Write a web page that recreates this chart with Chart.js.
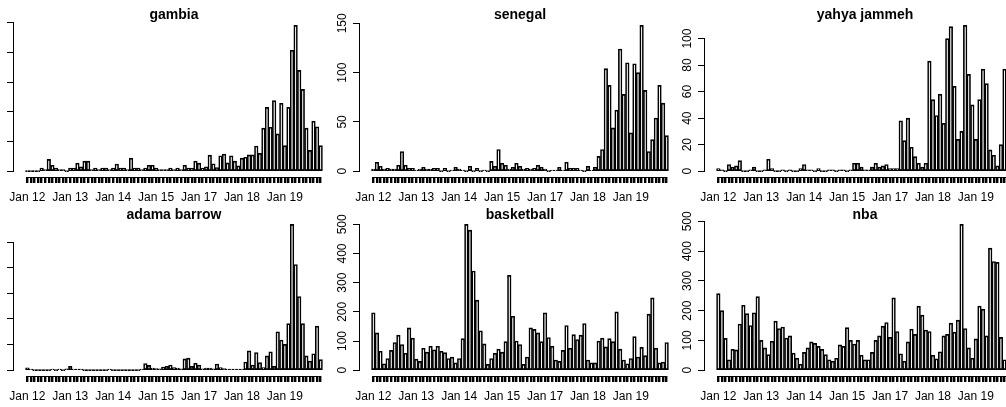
<!DOCTYPE html>
<html>
<head>
<meta charset="utf-8">
<script src="https://cdn.jsdelivr.net/npm/chart.js@4.4.1/dist/chart.umd.min.js"></script>
<style>
html, body { margin: 0; padding: 0; background: #fff; }
body { position: relative; width: 1006px; height: 407px; overflow: hidden; }
canvas { position: absolute; }
</style>
</head>
<body>
<script>
// ---------- Data ----------
// monthly series, 2016 is missing from the data, ends Nov 2019
const years = [2012, 2013, 2014, 2015, 2017, 2018, 2019];
const categories = [];
years.forEach(y => {
  const n = y === 2019 ? 11 : 12;
  for (let m = 1; m <= n; m++) categories.push(y + '-' + String(m).padStart(2, '0'));
});
const tickLabels = categories.map(c => c.endsWith('-01') ? 'Jan ' + c.slice(2, 4) : '');

const gambia = [
  0,0,0,0,1,0.5,4,2,1,0.5,
  0.5,0,1,1,2.7,1.5,3.4,3.4,0.5,1,
  0.5,1,1,0.5,1,2.4,1,1,0.5,4.4,
  1,1,0.5,1,2,2,1,0.5,0.5,0.5,
  1,0.5,1,0.5,2,1,1,3.4,2.7,1,
  1.5,5.4,2.5,1.2,5.2,5.8,2.8,5.2,3.4,1.8,
  4.4,4.7,5.5,5.5,8.5,6,14.5,21.5,14.8,23.8,
  12.6,22.9,8.6,21.5,40.8,49.2,34,27.6,14.5,7,
  16.9,15,8.6
];
const senegal = [
  2,9,5,2,3,2,2,6,20,6,
  3,3,1,2,4,2,2,3,3,0,
  3,0,1,4,2,1,0,5,0,3,
  0,1,0,10,5,22,8,6,2,4,
  8,5,2,3,2,3,6,4,2,0,
  1,1,4,1,9,3,3,3,1,0,
  5,1,4,15,22,104,87,44,62,124,
  78,110,39,109,100,148,82,20,32,54,
  87,69,36
];
const yahyaJammeh = [
  2,1,0,5,3,4,8,0,0,1,
  3,0,0,1,9,2,0,0,1,0,
  1,0,0,2,5,1,1,0,2,0,
  0,1,1,0,1,1,0,1,6,6,
  3,1,1,3,6,3,4,5,2,2,
  2,38,23,40,18,11,6,3,6,83,
  54,42,58,36,100,109,64,24,30,110,
  73,50,24,54,77,66,16,12,4,20,
  77,50,30
];
const adamaBarrow = [
  9,4,0,0,0,0,0,2,0,2,
  0,5,15,4,4,4,0,0,0,0,
  0,0,0,2,0,0,0,0,0,0,
  0,0,3,26,19,8,6,5,12,15,
  20,10,8,5,44,47,15,27,20,5,
  8,8,5,24,10,6,4,2,3,3,
  3,32,76,20,69,30,10,56,72,15,
  150,118,101,182,570,413,288,182,56,36,
  64,172,41
];
const basketball = [
  197,128,65,22,40,68,95,120,88,58,
  145,110,38,30,75,62,82,70,82,65,
  60,40,45,25,40,108,500,480,340,240,
  135,90,20,40,58,72,62,98,325,185,
  100,88,20,45,145,140,128,98,197,112,
  82,35,30,68,153,75,122,105,120,160,
  35,25,25,100,110,80,108,98,200,72,
  35,22,40,115,45,78,50,192,248,75,
  25,28,95
];
const nba = [
  257,200,107,35,70,68,155,218,190,150,
  193,247,100,75,52,97,165,140,145,108,
  115,57,40,20,60,75,95,90,80,70,
  52,35,30,40,85,80,143,100,88,100,
  50,35,35,60,100,115,148,160,110,243,
  130,55,30,95,138,120,215,185,135,130,
  50,38,62,115,120,158,128,168,490,140,
  75,40,105,215,205,115,410,365,362,110,
  35,30,40
];

const titles = ['gambia', 'senegal', 'yahya jammeh', 'adama barrow', 'basketball', 'nba'];
const series = [gambia, senegal, yahyaJammeh, adamaBarrow, basketball, nba];
const yStep = [10, 50, 20, 100, 100, 100];

// ---------- Layout ----------
const FONT = "'Liberation Sans', Arial, Helvetica, sans-serif";
const COL_X = [14, 360, 705];      // y axis position of each column
const ROW_Y = [0, 199];            // canvas top of each row
const TITLE_GAP = [4.85, 3.85];    // title centre above plot top, per row
const LEFT = 40, RIGHT = 10, TITLE_H = 19.5, BOTTOM = 30;
const PLOT_W = 320, PLOT_H = 158;

// R style axis lines: only between first and last tick
const axisLines = {
  id: 'axisLines',
  afterDraw(chart) {
    const { ctx } = chart;
    const x = chart.scales.x, y = chart.scales.y;
    const yt = y.ticks;
    ctx.save();
    ctx.strokeStyle = '#000';
    ctx.lineWidth = 1;
    ctx.beginPath();
    const ax = Math.round(y.right) - 0.5;
    ctx.moveTo(ax, y.getPixelForValue(yt[0].value));
    ctx.lineTo(ax, y.getPixelForValue(yt[yt.length - 1].value));
    const ay = Math.round(x.top) + 0.5;
    ctx.moveTo(x.getPixelForValue(0), ay);
    ctx.lineTo(x.getPixelForValue(categories.length - 1), ay);
    ctx.stroke();
    ctx.restore();
  }
};

function makePanel(k) {
  const col = k % 3, row = Math.floor(k / 3);
  const cv = document.createElement('canvas');
  cv.width = LEFT + PLOT_W + RIGHT;
  cv.height = TITLE_H + PLOT_H + BOTTOM;
  cv.style.left = (COL_X[col] - LEFT) + 'px';
  cv.style.top = ROW_Y[row] + 'px';
  document.body.appendChild(cv);

  const vals = series[k];
  const n = vals.length;
  const ymax = Math.max(...vals);
  // barplot: bars of width 1 with space 0.2, plot range widened 4%
  const ext = 0.04 * (1.2 * n - 0.2);
  const xmin = (0.2 - ext - 0.7) / 1.2;
  const xmax = (1.2 * n + ext - 0.7) / 1.2;
  const lh = 0.5 * 14;
  const padBottom = TITLE_GAP[row] - lh / 2;

  new Chart(cv, {
    type: 'bar',
    data: {
      labels: categories,
      datasets: [{
        data: vals.map((v, i) => ({ x: i, y: v })),
        backgroundColor: '#fff',
        borderColor: '#000',
        borderWidth: 1.65,
        borderSkipped: false,
        categoryPercentage: 1,
        barPercentage: 1,
        minBarLength: 1
      }]
    },
    options: {
      responsive: false,
      animation: false,
      devicePixelRatio: 1,
      events: [],
      layout: { padding: { left: 0, right: RIGHT, top: 0, bottom: 0 } },
      plugins: {
        legend: { display: false },
        tooltip: { enabled: false },
        title: {
          display: true,
          text: titles[k],
          fullSize: false,
          color: '#000',
          font: { family: FONT, size: 14, weight: 'bold', lineHeight: 0.5 },
          padding: { top: TITLE_H - lh - padBottom, bottom: padBottom }
        }
      },
      scales: {
        x: {
          type: 'linear',
          min: xmin,
          max: xmax,
          offset: false,
          bounds: 'data',
          afterBuildTicks: s => { s.ticks = categories.map((c, i) => ({ value: i })); },
          afterFit: s => { s.height = BOTTOM; },
          grid: { drawOnChartArea: false, drawTicks: true, tickLength: 6, color: '#000', lineWidth: 2.4, offset: false },
          border: { display: false },
          ticks: {
            autoSkip: false, maxRotation: 0, minRotation: 0, padding: 7,
            color: '#000', font: { family: FONT, size: 12 },
            callback: v => tickLabels[v] || ''
          }
        },
        y: {
          min: -0.04 * ymax,
          max: 1.04 * ymax,
          afterBuildTicks: s => {
            const t = [];
            for (let v = 0; v <= 1.04 * ymax; v += yStep[k]) t.push({ value: v });
            s.ticks = t;
          },
          afterFit: s => { s.width = LEFT; },
          grid: { drawOnChartArea: false, drawTicks: true, tickLength: 7, color: '#000', lineWidth: 1 },
          border: { display: false },
          ticks: {
            display: col > 0,
            minRotation: 90, maxRotation: 90, crossAlign: 'center', padding: 0,
            color: '#000', font: { family: FONT, size: 12 }
          }
        }
      }
    },
    plugins: [axisLines]
  });
}

for (let k = 0; k < 6; k++) makePanel(k);
</script>
</body>
</html>
